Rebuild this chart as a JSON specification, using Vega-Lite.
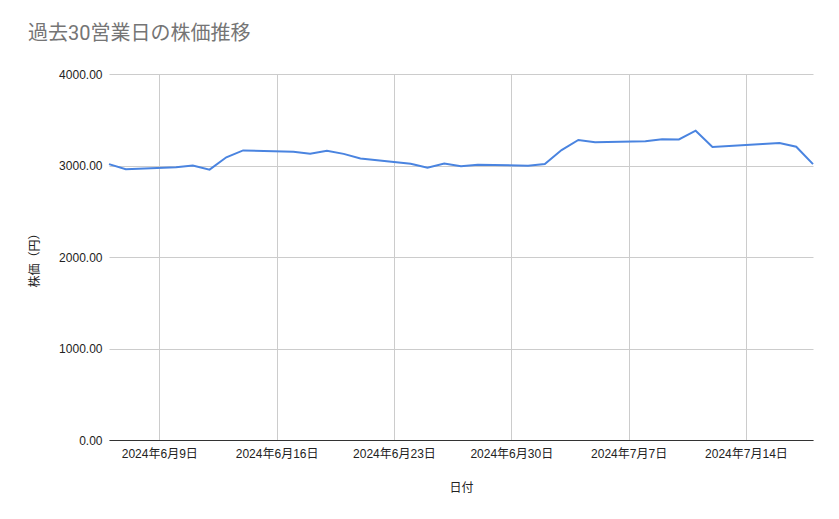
{
  "$schema": "https://vega.github.io/schema/vega-lite/v6.json",
  "width": 704, "height": 366,
  "autosize": {"type": "none"},
  "padding": {"left": 109, "top": 74, "right": 26, "bottom": 79},
  "background": "white",

  "title": {
    "text": "過去30営業日の株価推移",
    "font": "Roboto, Noto Sans CJK JP",
    "fontSize": 20,
    "fontWeight": "normal",
    "color": "#757575",
    "anchor": "start",
    "frame": "group",
    "dx": -81,
    "offset": 24
  },
  "config": {
    "view": {"stroke": "transparent"},
    "font": "Liberation Sans, Noto Sans CJK JP"
  },

  "data": {
    "values": [
      {"date": "2024-06-06", "price": 3015},
      {"date": "2024-06-07", "price": 2960},
      {"date": "2024-06-10", "price": 2980},
      {"date": "2024-06-11", "price": 3000},
      {"date": "2024-06-12", "price": 2955},
      {"date": "2024-06-13", "price": 3090},
      {"date": "2024-06-14", "price": 3165},
      {"date": "2024-06-17", "price": 3150},
      {"date": "2024-06-18", "price": 3128},
      {"date": "2024-06-19", "price": 3160},
      {"date": "2024-06-20", "price": 3127},
      {"date": "2024-06-21", "price": 3076},
      {"date": "2024-06-24", "price": 3020},
      {"date": "2024-06-25", "price": 2975},
      {"date": "2024-06-26", "price": 3022},
      {"date": "2024-06-27", "price": 2992},
      {"date": "2024-06-28", "price": 3008},
      {"date": "2024-07-01", "price": 2998},
      {"date": "2024-07-02", "price": 3016},
      {"date": "2024-07-03", "price": 3169},
      {"date": "2024-07-04", "price": 3279},
      {"date": "2024-07-05", "price": 3254},
      {"date": "2024-07-08", "price": 3266},
      {"date": "2024-07-09", "price": 3286},
      {"date": "2024-07-10", "price": 3285},
      {"date": "2024-07-11", "price": 3380},
      {"date": "2024-07-12", "price": 3202},
      {"date": "2024-07-15", "price": 3235},
      {"date": "2024-07-16", "price": 3245},
      {"date": "2024-07-17", "price": 3205},
      {"date": "2024-07-18", "price": 3015}
    ]
  },

  "mark": {"type": "line", "color": "#4a84e0", "strokeWidth": 2},

  "encoding": {
    "x": {
      "field": "date",
      "type": "temporal",
      "scale": {
        "type": "utc",
        "domain": [
          {"year": 2024, "month": 6, "date": 6, "utc": true},
          {"year": 2024, "month": 7, "date": 18, "utc": true}
        ]
      },
      "axis": {
        "title": "日付",
        "titleFontSize": 12,
        "titleFontWeight": "normal",
        "titleColor": "#222222",
        "titlePadding": 23,
        "values": [
          {"year": 2024, "month": 6, "date": 9, "utc": true},
          {"year": 2024, "month": 6, "date": 16, "utc": true},
          {"year": 2024, "month": 6, "date": 23, "utc": true},
          {"year": 2024, "month": 6, "date": 30, "utc": true},
          {"year": 2024, "month": 7, "date": 7, "utc": true},
          {"year": 2024, "month": 7, "date": 14, "utc": true}
        ],
        "format": "%Y年%-m月%-d日",
        "labelFontSize": 12,
        "labelColor": "#222222",
        "labelPadding": 8,
        "labelFlush": false,
        "ticks": false,
        "domainColor": "#333333",
        "grid": true,
        "gridColor": "#cccccc"
      }
    },
    "y": {
      "field": "price",
      "type": "quantitative",
      "scale": {"domain": [0, 4000], "nice": false},
      "axis": {
        "title": "株価（円）",
        "titleFontSize": 12,
        "titleFontWeight": "normal",
        "titleColor": "#222222",
        "titlePadding": 17,
        "values": [0, 1000, 2000, 3000, 4000],
        "format": ".2f",
        "labelFontSize": 12,
        "labelColor": "#222222",
        "labelPadding": 7,
        "ticks": false,
        "domain": false,
        "grid": true,
        "gridColor": "#cccccc"
      }
    }
  }
}
